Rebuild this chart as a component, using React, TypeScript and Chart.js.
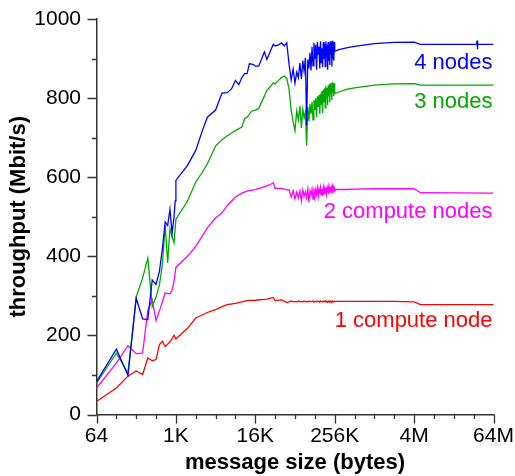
import React, { useEffect, useRef } from 'react';
import { Chart, registerables } from 'chart.js';

Chart.register(...registerables);

const FONT = '"Liberation Sans", Arial, Helvetica, sans-serif';
const K = 1024;
const M = 1024 * 1024;

// axis ticks
const xTickValues = [64, 1 * K, 16 * K, 256 * K, 4 * M, 64 * M];
const xTickLabels = ['64', '1K', '16K', '256K', '4M', '64M'];
const yTickValues = [0, 200, 400, 600, 800, 1000];
const yTickLabels = ['0', '200', '400', '600', '800', '1000'];

// series
const seriesNames = ['4 nodes', '3 nodes', '2 compute nodes', '1 compute node'];
const seriesColors = ['#0000ff', '#00aa00', '#ff00ff', '#ff0000'];
const seriesLabelY = [873, 776, 497, 221];

// 4 nodes: small / medium messages
const fourSizes = [64, 128, 192, 256, 320, 384, 448, 512, 576, 640, 704, 768, 832, 896, 960, 1000, 1024,
  1536, 2048, 2560, 3072, 4096, 5120, 6144, 7168, 8192,
  9216, 10240, 11264, 12288, 13312, 14336, 15360, 16384,
  18432, 20480, 22528, 24576, 28672, 30720, 32768, 36864, 40960, 45056, 49152];
const fourMbps = [83, 165, 99, 294, 242, 240, 340, 329, 362, 420, 487, 478, 519, 458, 500, 540, 592,
  630, 668, 716, 752, 770, 813, 814, 824, 845,
  834, 852, 862, 862, 887, 886, 885, 881,
  881, 900, 917, 898, 925, 936, 932, 935, 940, 932, 940];

// 3 nodes
const threeSizes = [64, 128, 192, 256, 320, 384, 448, 512, 576, 640, 704, 768, 832, 896, 960, 1024,
  1536, 2048, 2560, 3072, 4096, 5120, 6144, 7168, 8192,
  10240, 11264, 12288, 14336, 16384, 18432, 20480, 24576, 28672, 30720, 32768, 36864, 40960, 45056, 49152];
const threeMbps = [79, 155, 105, 297, 345, 395, 273, 297, 328, 380, 480, 383, 470, 450, 434, 494,
  540, 588, 612, 634, 679, 695, 705, 712, 718,
  727, 748, 752, 767, 770, 774, 790, 820, 832, 839, 836, 845, 852, 856, 850];

// 2 compute nodes
const twoSizes = [64, 128, 192, 256, 320, 384, 448, 512, 576, 640, 704, 768, 832, 896, 960, 1024,
  1536, 2048, 3072, 4096, 5120, 6144, 8192,
  10240, 12288, 16384, 20480, 24576, 28672, 30720, 32768, 40960, 49152];
const twoMbps = [67, 130, 174, 154, 155, 263, 290, 237, 262, 285, 308, 306, 305, 315, 337, 372,
  400, 425, 472, 497, 510, 528, 550,
  560, 565, 569, 574, 578, 583, 586, 572, 572, 568];

// 1 compute node
const oneSizes = [64, 128, 192, 256, 320, 384, 448, 512, 576, 640, 704, 768, 832, 896, 960, 1024,
  1152, 1536, 2048, 3072, 4096, 5120, 6144, 8192,
  12288, 16384, 24576, 30720, 32768, 40960, 49152];
const oneMbps = [33, 67, 97, 110, 101, 143, 136, 139, 177, 185, 172, 178, 184, 192, 200, 191,
  199, 218, 244, 258, 265, 273, 278, 281,
  288, 289, 292, 296, 288, 290, 283];

// unstable region (KB)
const noiseSizesK = [52, 56, 60, 64, 68, 72, 76, 80, 84, 88,
  92, 96, 100, 104, 108, 112, 116, 120, 124, 128,
  132, 136, 140, 144, 148, 152, 156, 160, 164, 168,
  172, 176, 180, 184, 188, 192, 196, 200, 204, 208,
  212, 216, 220, 224, 228, 232, 236, 240, 244, 248,
  252, 256];
const fourNoise = [886, 846, 874, 838, 866, 852, 889, 848, 895, 868,
  902, 730, 898, 875, 915, 870, 930, 882, 940, 900,
  935, 872, 942, 910, 930, 875, 944, 890, 926, 878,
  942, 900, 938, 880, 944, 905, 936, 872, 942, 895,
  938, 884, 944, 910, 940, 880, 945, 900, 938, 895,
  942, 918];
const threeNoise = [823, 770, 740, 718, 768, 745, 780, 725, 772, 750,
  765, 680, 778, 742, 785, 760, 790, 745, 795, 770,
  800, 752, 805, 778, 808, 760, 812, 785, 818, 762,
  822, 790, 825, 775, 830, 800, 826, 782, 832, 805,
  835, 790, 838, 810, 832, 795, 840, 815, 836, 805,
  838, 812];
const twoNoise = [568, 550, 566, 545, 562, 548, 565, 540, 568, 552,
  563, 548, 570, 537, 566, 556, 570, 545, 572, 550,
  568, 556, 572, 552, 570, 558, 573, 555, 570, 560,
  574, 556, 570, 560, 574, 558, 572, 562, 574, 558,
  572, 562, 575, 560, 572, 564, 574, 560, 572, 565,
  573, 569];
const oneNoise = [285, 287, 285, 286, 285, 287, 285, 286, 285, 287,
  285, 286, 285, 287, 285, 286, 286, 287, 285, 286,
  286, 285, 287, 286, 286, 285, 287, 286, 286, 285,
  287, 286, 286, 285, 287, 286, 286, 285, 287, 286,
  286, 285, 287, 286, 286, 285, 287, 286, 285, 286,
  286, 286];

// large messages
const tailSizes = [288 * K, 384 * K, 512 * K, 1 * M, 2 * M, 4 * M, 5 * M, 64 * M];
const fourTailSizes = [288 * K, 384 * K, 512 * K, 1 * M, 2 * M, 4 * M, 5 * M, 35.5 * M, 36 * M, 36.5 * M, 37 * M, 64 * M];
const fourTail = [922, 927, 931, 938, 941, 942, 936, 936, 946, 924, 936, 936];
const threeTail = [815, 822, 826, 833, 836, 837, 833, 833];
const twoTail = [569, 569, 570, 571, 571, 571, 561, 560];
const oneTail = [286, 286, 286, 286, 286, 285, 278, 278];

function buildSeries(sizes: number[], vals: number[], noise: number[], tSizes: number[], tVals: number[]) {
  return [
    ...sizes.map((x, i) => ({ x, y: vals[i] })),
    ...noiseSizesK.map((k, i) => ({ x: k * K, y: noise[i] })),
    ...tSizes.map((x, i) => ({ x, y: tVals[i] })),
  ];
}

const seriesData = [
  buildSeries(fourSizes, fourMbps, fourNoise, fourTailSizes, fourTail),
  buildSeries(threeSizes, threeMbps, threeNoise, tailSizes, threeTail),
  buildSeries(twoSizes, twoMbps, twoNoise, tailSizes, twoTail),
  buildSeries(oneSizes, oneMbps, oneNoise, tailSizes, oneTail),
];

const axisPlugin = {
  id: 'axisTicksAndLabels',
  afterDraw(chart: any) {
    const { ctx, scales } = chart;
    const xs = scales.x;
    const ys = scales.y;
    ctx.save();
    ctx.strokeStyle = '#333';
    ctx.lineWidth = 1.3;
    ctx.beginPath();
    for (let e = 6; e <= 26; e++) {
      const v = Math.pow(2, e);
      const px = Math.round(xs.getPixelForValue(v)) + 0.5;
      const len = xTickValues.includes(v) ? 9 : 4.5;
      ctx.moveTo(px, xs.top);
      ctx.lineTo(px, xs.top + len);
    }
    for (let v = 0; v <= 1000; v += 100) {
      const py = Math.round(ys.getPixelForValue(v)) + 0.5;
      const len = yTickValues.includes(v) ? 9 : 4.5;
      ctx.moveTo(ys.right - len, py);
      ctx.lineTo(ys.right, py);
    }
    ctx.stroke();

    ctx.font = `22px ${FONT}`;
    ctx.textAlign = 'right';
    ctx.textBaseline = 'alphabetic';
    const xr = xs.getPixelForValue(64 * M) - 1;
    seriesNames.forEach((name, i) => {
      ctx.fillStyle = seriesColors[i];
      ctx.fillText(name, xr, ys.getPixelForValue(seriesLabelY[i]));
    });
    ctx.restore();
  },
};

export default function App() {
  const ref = useRef<HTMLCanvasElement>(null);
  useEffect(() => {
    const chart = new Chart(ref.current as HTMLCanvasElement, {
      type: 'line',
      data: {
        datasets: seriesData.map((d, i) => ({
          label: seriesNames[i],
          data: d,
          borderColor: seriesColors[i],
          backgroundColor: seriesColors[i],
          borderWidth: 1.3,
          pointRadius: 0,
          tension: 0,
          fill: false,
        })),
      },
      options: {
        animation: false,
        responsive: true,
        maintainAspectRatio: false,
        layout: { padding: { top: 18, right: 21.5, bottom: 0, left: 0 } },
        plugins: { legend: { display: false }, tooltip: { enabled: false } },
        scales: {
          x: {
            type: 'logarithmic',
            min: 64,
            max: 64 * M,
            afterBuildTicks: (s: any) => { s.ticks = xTickValues.map((v) => ({ value: v })); },
            afterFit: (s: any) => { s.height = 61.5; },
            ticks: {
              autoSkip: false,
              maxRotation: 0,
              minRotation: 0,
              padding: 0,
              color: '#000',
              font: { family: FONT, size: 21 },
              callback: (v: any) => {
                const i = xTickValues.indexOf(Number(v));
                return i >= 0 ? xTickLabels[i] : '';
              },
            },
            grid: { display: false, drawTicks: true, tickLength: 9 },
            border: { display: true, color: '#333', width: 1.5 },
            title: {
              display: true,
              text: 'message size (bytes)',
              color: '#000',
              font: { family: FONT, size: 22, weight: 'bold' },
              padding: { top: 0, bottom: 0 },
            },
          },
          y: {
            type: 'linear',
            min: 0,
            max: 1000,
            afterBuildTicks: (s: any) => { s.ticks = yTickValues.map((v) => ({ value: v })); },
            afterFit: (s: any) => { s.width = 96.5; },
            ticks: {
              padding: 6.5,
              color: '#000',
              font: { family: FONT, size: 21 },
              callback: (v: any) => {
                const i = yTickValues.indexOf(Number(v));
                return i >= 0 ? yTickLabels[i] : '';
              },
            },
            grid: { display: false, drawTicks: true, tickLength: 9 },
            border: { display: true, color: '#333', width: 1.5 },
            title: {
              display: true,
              text: 'throughput (Mbit/s)',
              color: '#000',
              font: { family: FONT, size: 22, weight: 'bold' },
              padding: { top: 6, bottom: 0 },
            },
          },
        },
      } as any,
      plugins: [axisPlugin],
    });
    return () => chart.destroy();
  }, []);
  return (
    <div style={{ position: 'fixed', left: 0, top: 0, width: 515, height: 476, background: '#fff' }}>
      <canvas ref={ref} />
    </div>
  );
}
